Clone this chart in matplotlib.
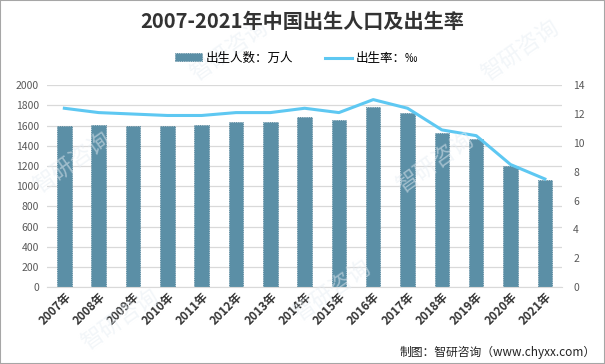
import matplotlib
matplotlib.use("Agg")
import matplotlib.pyplot as plt
import numpy as np

plt.rcParams['font.family'] = ['Noto Sans CJK SC', 'DejaVu Sans']

years = ['2007年', '2008年', '2009年', '2010年', '2011年', '2012年', '2013年', '2014年',
         '2015年', '2016年', '2017年', '2018年', '2019年', '2020年', '2021年']
births = [1594, 1608, 1591, 1592, 1604, 1635, 1640, 1687, 1655, 1786, 1723, 1523, 1465, 1200, 1062]
birth_rate = [12.4, 12.1, 12.0, 11.9, 11.9, 12.1, 12.1, 12.4, 12.1, 13.0, 12.4, 10.9, 10.5, 8.5, 7.5]

bar_color = '#5b8fa6'
line_color = '#5ec8f2'
tick_color = '#595959'

fig = plt.figure(figsize=(6.05, 3.64), dpi=100)
fig.patch.set_facecolor('white')

ax = fig.add_axes([0.078, 0.211, 0.851, 0.555])
x = np.arange(len(years))
ax.bar(x, births, width=0.42, color=bar_color, edgecolor='#4a7c93', linewidth=0.6,
       linestyle=':', zorder=2, label='出生人数：万人')
ax.set_xlim(-0.5, len(years) - 0.5)
ax.set_ylim(0, 2000)
ax.set_yticks(range(0, 2001, 200))
ax.grid(axis='y', color='#d9d9d9', linewidth=0.9, zorder=0)
ax.set_axisbelow(True)
for s in ['top', 'right', 'left']:
    ax.spines[s].set_visible(False)
ax.spines['bottom'].set_color('#d9d9d9')
ax.tick_params(axis='y', length=0, labelsize=7.5, labelcolor=tick_color, pad=6)
ax.tick_params(axis='x', length=0, pad=2)
ax.set_xticks(x)
ax.set_xticklabels(years, rotation=45, ha='right', rotation_mode='anchor',
                   fontsize=8.5, fontweight='bold', color='#333333')

ax2 = ax.twinx()
ax2.plot(x, birth_rate, color=line_color, linewidth=2.2, zorder=3, label='出生率：‰')
ax2.set_ylim(0, 14)
ax2.set_yticks(range(0, 15, 2))
for s in ax2.spines.values():
    s.set_visible(False)
ax2.tick_params(axis='y', length=0, labelsize=7.5, labelcolor=tick_color, pad=8)

fig.text(0.5, 0.94, '2007-2021年中国出生人口及出生率', ha='center', va='center',
         fontsize=14.5, fontweight='bold', color='#333333')

h1, l1 = ax.get_legend_handles_labels()
h2, l2 = ax2.get_legend_handles_labels()
fig.legend(h1 + h2, l1 + l2, loc='center', bbox_to_anchor=(0.49, 0.84), ncol=2,
           frameon=False, fontsize=9, handlelength=2.2, handleheight=0.6,
           columnspacing=2.5, handletextpad=0.3)

fig.text(0.985, 0.033, '制图：智研咨询（www.chyxx.com）', ha='right', va='center',
         fontsize=8.5, color='#222222')

# faint watermarks
for wx, wy in [(0.38, 0.86), (0.86, 0.86), (0.12, 0.55), (0.72, 0.55), (0.55, 0.2), (0.2, 0.12)]:
    fig.text(wx, wy, '智研咨询', rotation=35, fontsize=16, color='#e6edf3', alpha=0.5,
             ha='center', va='center', zorder=0)

# outer border
fig.add_artist(plt.Rectangle((0, 0), 1, 1, transform=fig.transFigure, fill=False,
                             edgecolor='#a6a6a6', linewidth=1.5))

fig.savefig('out.png', dpi=100)
